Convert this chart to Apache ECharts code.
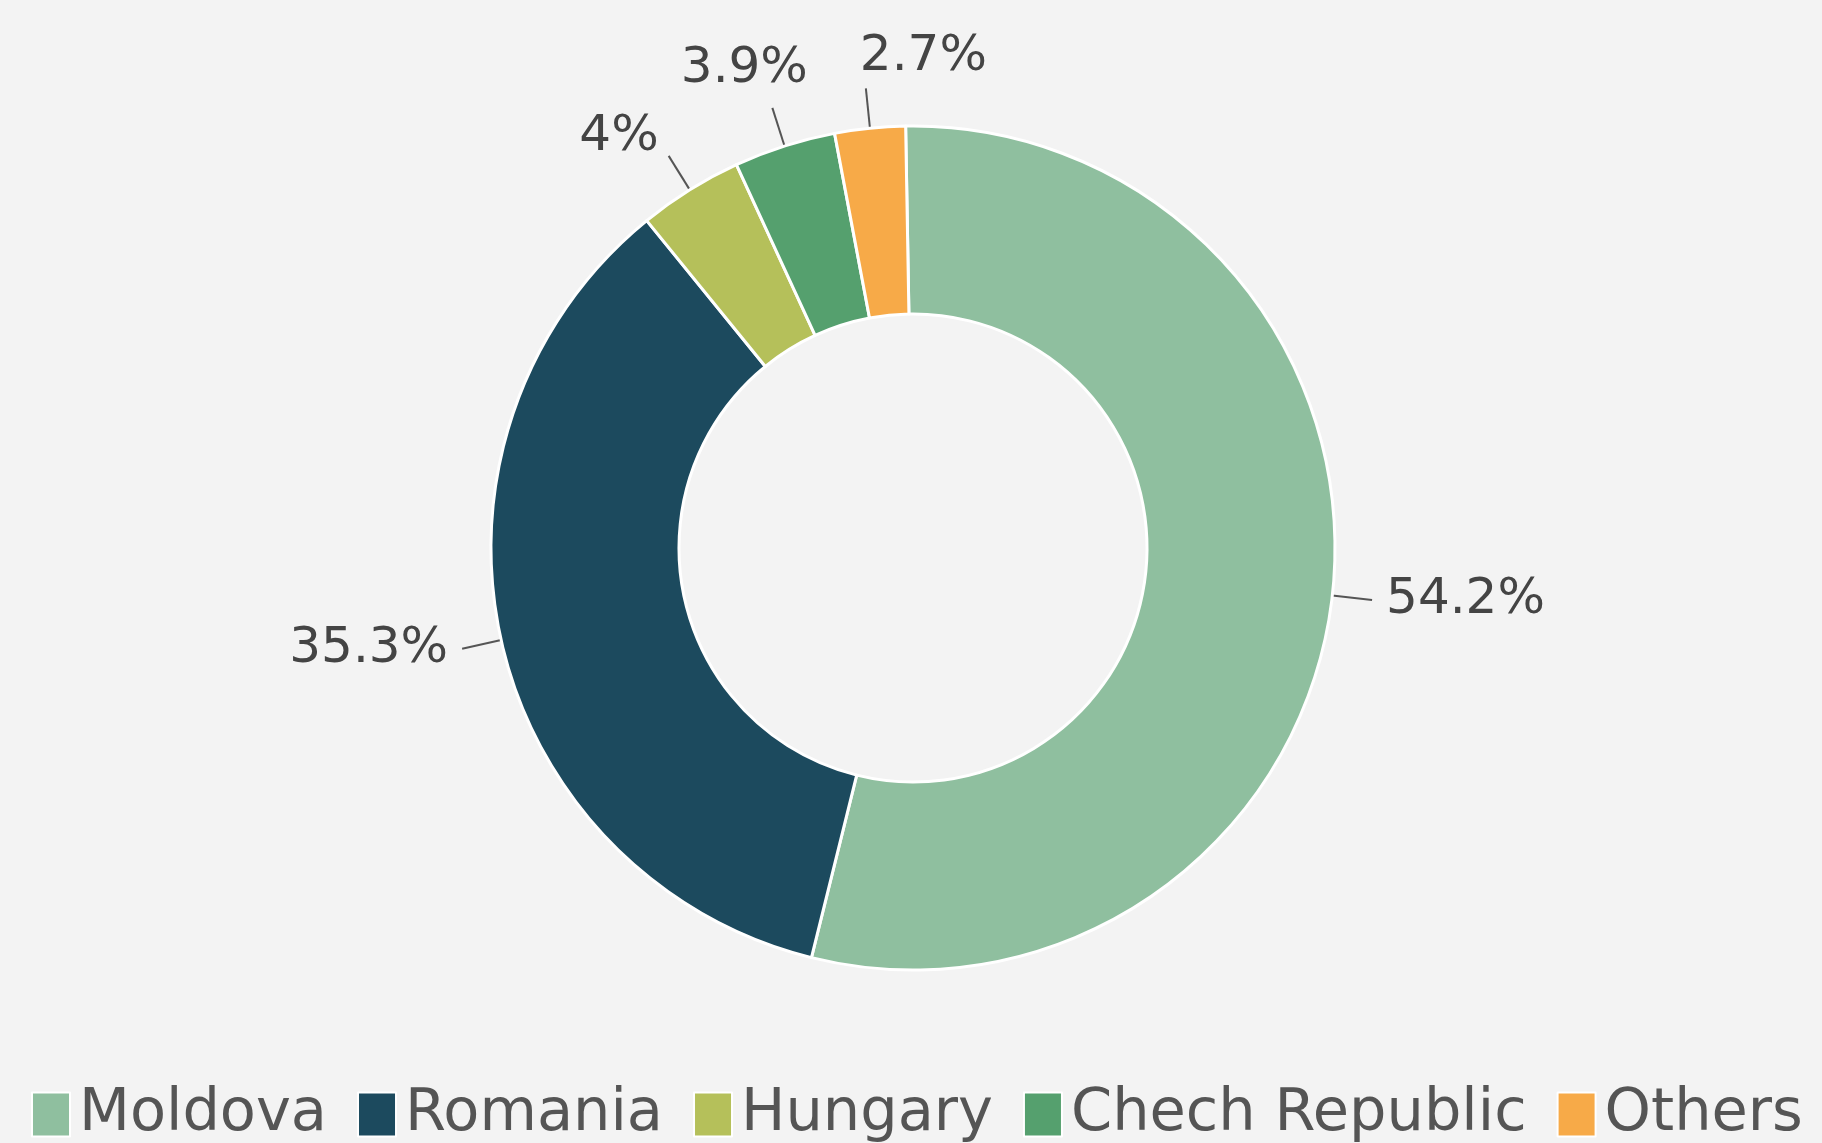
<!DOCTYPE html>
<html>
<head>
<meta charset="utf-8">
<script src="https://cdn.jsdelivr.net/npm/echarts@6/dist/echarts.min.js"></script>
<style>
  html, body { margin: 0; padding: 0; background: #f3f3f3; }
  #chart { width: 1822px; height: 1143px; }
</style>
</head>
<body>
<div id="chart"></div>
<script>
// share of total, %
const countries = ['Moldova', 'Romania', 'Hungary', 'Chech Republic', 'Others']
const shares = [54.2, 35.3, 4, 3.9, 2.7]
const colors = ['#8fbf9f', '#1c4a5e', '#b5c05a', '#55a06e', '#f7aa48']

const cx = 913
const cy = 548

const chart = echarts.init(document.getElementById('chart'))

// top labels sit above the line end so they don't collide
function layoutLabel(params) {
  const pts = params.labelLinePoints
  if (!pts) return {}
  const p1 = pts[1]
  if (p1[1] > cy - 250) {
    return {}
  }
  let align = 'right'
  let x = p1[0] - 10
  let y = p1[1] + 6
  if (p1[0] > cx - 90) {
    align = 'left'
    x = p1[0] - 6
    y = p1[1] - 6
  } else if (p1[0] > cx - 200) {
    align = 'center'
    x = p1[0] - 28
    y = p1[1] - 14
  }
  return { x: x, y: y, align: align, verticalAlign: 'bottom', labelLinePoints: pts }
}

chart.setOption({
  backgroundColor: '#f3f3f3',
  textStyle: { fontFamily: 'DejaVu Sans' },
  legend: {
    data: countries,
    left: 26,
    top: 1080,
    icon: 'rect',
    itemWidth: 38,
    itemHeight: 44,
    itemGap: 30,
    textStyle: {
      fontSize: 59,
      color: '#555555',
      padding: [0, 0, 0, 4]
    }
  },
  series: [{
    type: 'pie',
    center: [cx, cy],
    radius: [234, 422],
    startAngle: 91,
    clockwise: true,
    avoidLabelOverlap: false,
    itemStyle: {
      borderColor: '#ffffff',
      borderWidth: 3
    },
    label: {
      show: true,
      position: 'outside',
      formatter: p => p.value + '%',
      fontSize: 50,
      color: '#444444',
      distanceToLabelLine: 14
    },
    labelLine: {
      show: true,
      length: 40,
      length2: 0,
      lineStyle: { color: '#555555', width: 2 }
    },
    labelLayout: layoutLabel,
    data: countries.map((name, i) => ({
      name: name,
      value: shares[i],
      itemStyle: { color: colors[i] }
    }))
  }]
})
</script>
</body>
</html>
